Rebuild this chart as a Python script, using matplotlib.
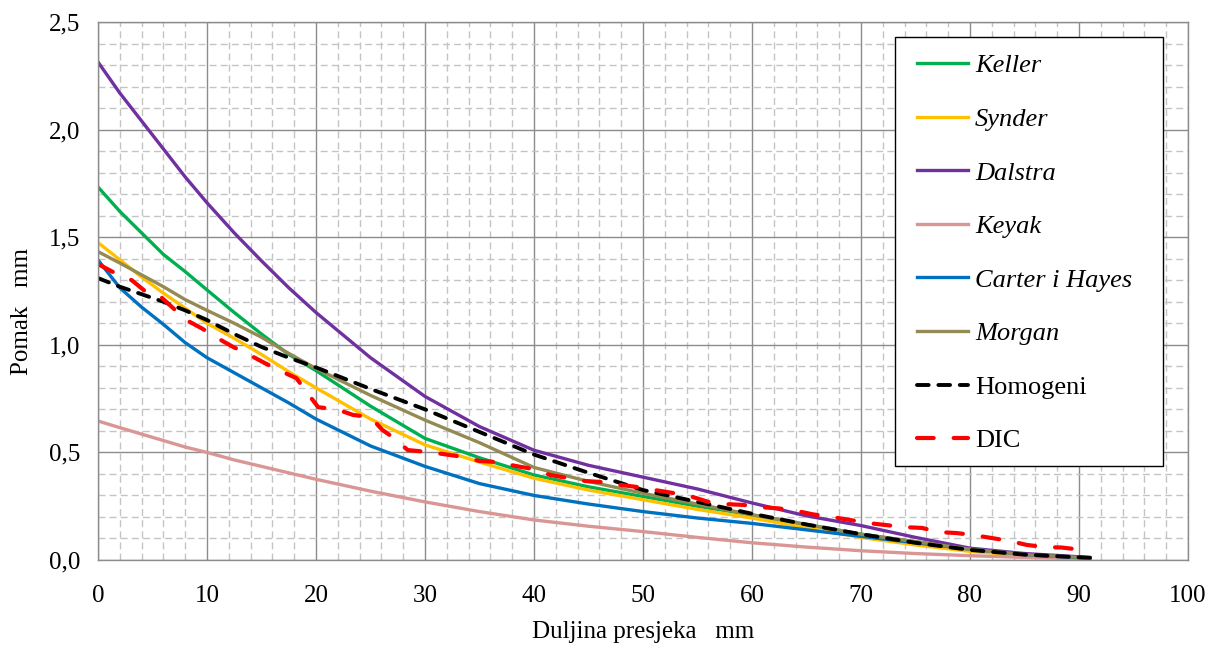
import matplotlib.pyplot as plt
from matplotlib.ticker import MultipleLocator

# ================= DATA =================
x_model = [0, 2, 4, 6, 8, 10, 12.5, 15, 17.5, 20, 25, 30, 35, 40, 45, 50,
           55, 60, 65, 70, 75, 80, 85, 91]

keller = [1.733, 1.62, 1.52, 1.42, 1.34, 1.255, 1.15, 1.05, 0.955, 0.88, 0.715,
          0.565, 0.475, 0.395, 0.34, 0.295, 0.25, 0.21, 0.165, 0.12, 0.085,
          0.05, 0.025, 0.01]
synder = [1.475, 1.395, 1.315, 1.24, 1.17, 1.10, 1.03, 0.955, 0.875, 0.80, 0.655,
          0.535, 0.455, 0.38, 0.325, 0.28, 0.235, 0.195, 0.15, 0.105, 0.07,
          0.04, 0.02, 0.01]
dalstra = [2.314, 2.17, 2.04, 1.91, 1.78, 1.66, 1.52, 1.39, 1.265, 1.15, 0.94,
           0.76, 0.62, 0.51, 0.44, 0.385, 0.33, 0.265, 0.205, 0.16, 0.105,
           0.055, 0.03, 0.012]
keyak = [0.646, 0.615, 0.585, 0.555, 0.525, 0.50, 0.465, 0.435, 0.405, 0.375,
         0.32, 0.27, 0.225, 0.186, 0.157, 0.132, 0.105, 0.08, 0.06, 0.043,
         0.03, 0.02, 0.012, 0.005]
carter = [1.394, 1.265, 1.175, 1.095, 1.01, 0.94, 0.87, 0.80, 0.73, 0.655, 0.53,
          0.435, 0.355, 0.30, 0.26, 0.225, 0.195, 0.17, 0.14, 0.11, 0.08,
          0.05, 0.025, 0.008]
morgan = [1.433, 1.38, 1.325, 1.27, 1.21, 1.16, 1.10, 1.035, 0.96, 0.89, 0.765,
          0.65, 0.545, 0.43, 0.365, 0.31, 0.26, 0.21, 0.165, 0.12, 0.085,
          0.05, 0.025, 0.01]
homogeni = [1.31, 1.27, 1.235, 1.20, 1.16, 1.115, 1.05, 0.99, 0.94, 0.895, 0.795,
            0.70, 0.595, 0.49, 0.405, 0.325, 0.27, 0.215, 0.165, 0.12, 0.08,
            0.047, 0.025, 0.01]

x_dic = [0, 1.5, 3.1, 4.3, 5.5, 6.9, 8.1, 9.5, 11, 12.4, 13.9, 15.3, 16.9, 18.2,
         19.3, 20.2, 21.9, 23.4, 25, 26.1, 27.4, 28.4, 30.2, 31.6, 33.5, 35,
         36.7, 38.3, 39.9, 41.5, 43.1, 44.7, 46.3, 47.9, 49.5, 51.1, 52.8, 54.3,
         56, 57.5, 59.2, 60.7, 62.4, 63.9, 65.6, 67.3, 69, 70.6, 72.2, 73.9,
         75.6, 77.1, 78.8, 80.3, 82, 83.7, 85.2, 86.9, 88.4, 89.6]
dic = [1.375, 1.335, 1.30, 1.25, 1.235, 1.17, 1.115, 1.077, 1.03, 0.99, 0.953,
       0.915, 0.875, 0.845, 0.77, 0.71, 0.70, 0.674, 0.664, 0.604, 0.558, 0.511,
       0.502, 0.493, 0.479, 0.46, 0.455, 0.437, 0.423, 0.395, 0.381, 0.367,
       0.362, 0.349, 0.339, 0.325, 0.311, 0.297, 0.27, 0.26, 0.256, 0.246,
       0.24, 0.23, 0.212, 0.2, 0.186, 0.172, 0.163, 0.153, 0.149, 0.13, 0.125,
       0.116, 0.102, 0.088, 0.07, 0.06, 0.058, 0.051]

x_ticks = [0, 10, 20, 30, 40, 50, 60, 70, 80, 90, 100]
y_ticks = [0.0, 0.5, 1.0, 1.5, 2.0, 2.5]
y_tick_labels = ['0,0', '0,5', '1,0', '1,5', '2,0', '2,5']

# ================= PLOT =================
plt.rcParams['font.family'] = ['Liberation Serif', 'DejaVu Serif']

fig = plt.figure(figsize=(12.1, 6.51), dpi=100)
ax = fig.add_axes([98 / 1210, 1 - 560 / 651, 1090 / 1210, 538 / 651])

lw = 2.4
ax.plot(x_model, keller, color='#00B050', lw=lw, label='Keller')
ax.plot(x_model, synder, color='#FFC000', lw=lw, label='Synder')
ax.plot(x_model, dalstra, color='#7030A0', lw=lw, label='Dalstra')
ax.plot(x_model, keyak, color='#D99694', lw=lw, label='Keyak')
ax.plot(x_model, carter, color='#0070C0', lw=lw, label='Carter i Hayes')
ax.plot(x_model, morgan, color='#948A54', lw=lw, label='Morgan')
ax.plot(x_model, homogeni, color='black', lw=2.8, dashes=(3.0, 2.5),
        dash_capstyle='round', label='Homogeni')
ax.plot(x_dic, dic, color='#FF0000', lw=3.0, dashes=(4.0, 4.8),
        dash_capstyle='round', label='DIC')

ax.set_xlim(0, 100)
ax.set_ylim(0, 2.5)
ax.set_xticks(x_ticks)
ax.set_yticks(y_ticks)
ax.set_yticklabels(y_tick_labels)
ax.xaxis.set_minor_locator(MultipleLocator(2))
ax.yaxis.set_minor_locator(MultipleLocator(0.1))
ax.tick_params(which='both', length=0, labelsize=18)
ax.tick_params(axis='x', pad=18)
ax.tick_params(axis='y', pad=13)

ax.grid(True, which='major', color='#8c8c8c', lw=1.0, ls='-')
ax.grid(True, which='minor', color='#c4c4c4', lw=1.0, ls=(0, (5, 3)))
ax.set_axisbelow(True)
for s in ax.spines.values():
    s.set_color('#8c8c8c')
    s.set_linewidth(1.0)

ax.set_xlabel('Duljina presjeka   mm', fontsize=18)
ax.set_ylabel('Pomak   mm', fontsize=18)
ax.xaxis.set_label_coords(0.5, -0.113)
ax.yaxis.set_label_coords(-0.06, 0.461)

# legend box drawn separately so the padding matches the original
box = plt.Rectangle((0.7312, 0.1747), 0.2459, 0.7974, transform=ax.transAxes,
                    facecolor='white', edgecolor='black', lw=1.0, zorder=4)
ax.add_patch(box)
leg = ax.legend(loc='upper left', bbox_to_anchor=(0.7514, 0.9405),
                borderaxespad=0, borderpad=0, fontsize=19, frameon=False,
                handlelength=1.95, handletextpad=0.25, labelspacing=1.14)
for t in leg.get_texts()[:6]:
    t.set_fontstyle('italic')

fig.savefig('out.png', dpi=100)
